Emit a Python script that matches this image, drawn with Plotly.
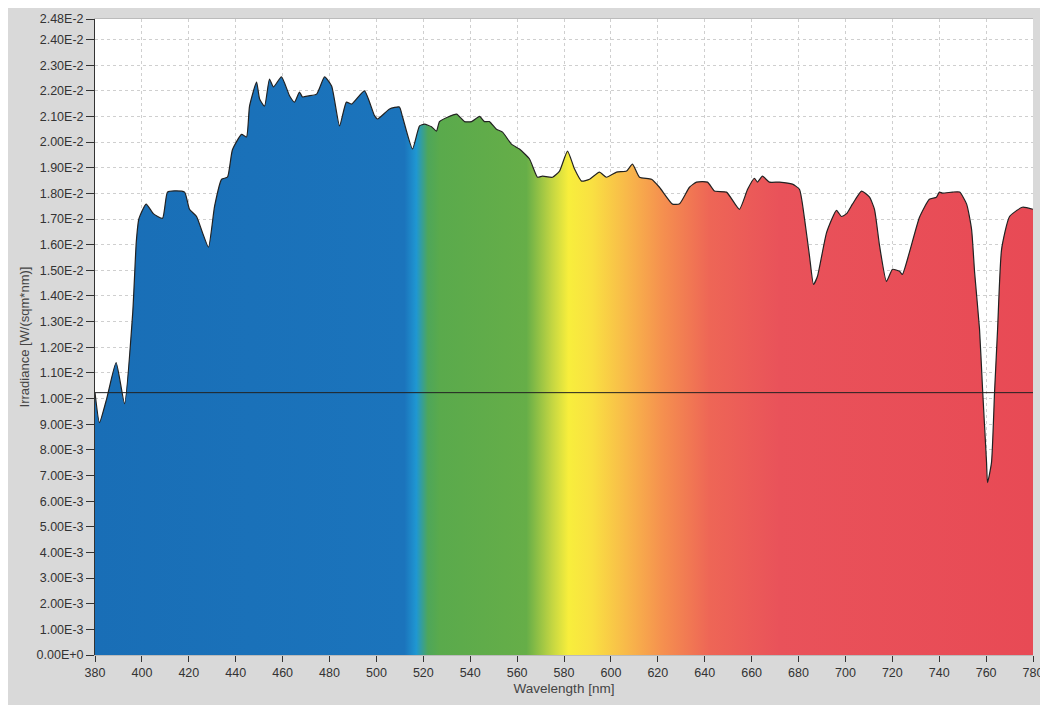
import plotly.graph_objects as go

# Spectral irradiance
wavelength = [380, 381.9, 385, 389.0, 392.6, 396.1, 397.6, 398.7, 401.8, 405, 408.8, 410.9, 414, 418.2,
              420.3, 423.3, 425.8, 428.4, 431, 434, 436.5, 438.6, 442.5, 444.6, 445.9, 448.9, 450.2,
              452.3, 454.4, 456.1, 459.5, 463, 465.1, 467.2, 468.5, 471, 474.5, 477.9, 480.9, 484.3,
              487.2, 489.4, 494.9, 499.2, 500.5, 505.6, 509.8, 511.1, 515.4, 518.4, 520.5, 523.5,
              525.6, 526.9, 530.3, 534.2, 537.6, 540.6, 544, 546.1, 548.2, 551.2, 553.8, 557.6, 561,
              565.3, 568.7, 570.8, 575.1, 578.1, 581.5, 584.5, 587.5, 590.9, 595.1, 598.1, 602.4,
              606.7, 609.2, 612.2, 617.3, 620.7, 626.3, 629.3, 633.5, 636.5, 641.2, 644.2, 649.3,
              654.8, 658.3, 661.2, 662.5, 664.6, 667.6, 671.9, 677.4, 680.4, 682.6, 684.7, 686.4,
              688.1, 692, 696.2, 698.3, 700.5, 703, 706.9, 710.3, 712.4, 714.6, 717.5, 720.1, 723.1,
              724.3, 727.3, 731.6, 735.8, 738.8, 740.1, 741.4, 745.7, 748.7, 751.7, 753.8, 755.1,
              757.2, 758.5, 760.2, 760.6, 762.3, 763.6, 764.9, 766.6, 770, 775.5, 780]
irradiance = [0.01023, 0.00906, 0.0100, 0.0114, 0.0098, 0.01336, 0.0161, 0.0170, 0.01758, 0.0172,
              0.01703, 0.01805, 0.01810, 0.01805, 0.01738, 0.0171, 0.01648, 0.0159, 0.0175, 0.01855,
              0.01863, 0.0197, 0.0203, 0.0202, 0.0214, 0.02234, 0.02168, 0.0214, 0.02246, 0.02215,
              0.02254, 0.0218, 0.02156, 0.02195, 0.02176, 0.02180, 0.02187, 0.02254, 0.02219, 0.02063,
              0.02156, 0.02148, 0.0220, 0.02103, 0.0209, 0.02129, 0.02137, 0.0210, 0.01973, 0.02063,
              0.0207, 0.0206, 0.02043, 0.0208, 0.02097, 0.02109, 0.0208, 0.0208, 0.0210, 0.0208,
              0.0208, 0.0205, 0.02039, 0.01992, 0.01973, 0.01934, 0.01863, 0.01867, 0.01863, 0.01887,
              0.01965, 0.01895, 0.01848, 0.01855, 0.01883, 0.01863, 0.01883, 0.01887, 0.01914,
              0.01863, 0.01855, 0.01824, 0.01758, 0.0176, 0.01824, 0.01844, 0.01844, 0.01809,
              0.01805, 0.01738, 0.01816, 0.01859, 0.01844, 0.01867, 0.01844, 0.01844, 0.01836,
              0.01816, 0.01699, 0.01555, 0.01445, 0.01477, 0.01648, 0.01734, 0.0171, 0.01721,
              0.01758, 0.01809, 0.01785, 0.01738, 0.01594, 0.01457, 0.01504, 0.01496, 0.01484,
              0.0157, 0.01707, 0.01777, 0.01785, 0.01805, 0.01801, 0.01805, 0.01805, 0.01758, 0.0166,
              0.01492, 0.0127, 0.01035, 0.0075, 0.00672, 0.0075, 0.01023, 0.0127, 0.01582, 0.0171,
              0.01746, 0.01738]

reference_level = 0.01023

x_ticks = list(range(380, 781, 20))
y_ticks = [i * 0.001 for i in range(25)] + [0.0248]
y_labels = ["0.00E+0"] + [f"{i}.00E-3" for i in range(1, 10)] + \
           [f"{i/10:.2f}E-2" for i in range(10, 25)] + ["2.48E-2"]

spectrum = [
    [0.0, "#196eb6"], [0.33, "#1b74bc"], [0.3425, "#1f97d2"], [0.355, "#4ea65a"],
    [0.3675, "#5aaa4c"], [0.46, "#66ae48"], [0.4875, "#c4d642"], [0.505, "#f8ee3c"],
    [0.53, "#f9e042"], [0.5675, "#f8b84a"], [0.605, "#f5904f"], [0.655, "#ee6656"],
    [0.73, "#e9525a"], [1.0, "#e84a55"],
]

fig = go.Figure()
fig.add_trace(go.Scatter(
    x=wavelength, y=irradiance, mode="lines", fill="tozeroy",
    line=dict(color="#222222", width=1.2, shape="spline", smoothing=0.5),
    fillgradient=dict(type="horizontal", colorscale=spectrum, start=380, stop=780),
    showlegend=False, hoverinfo="skip",
))
fig.add_trace(go.Scatter(
    x=[380, 780], y=[reference_level, reference_level], mode="lines",
    line=dict(color="#222222", width=1), showlegend=False, hoverinfo="skip",
))

font = dict(family="Liberation Sans, Arial", size=12.5, color="#333333")
fig.update_layout(
    width=1040, height=697,
    margin=dict(l=87, r=15, t=11, b=50, autoexpand=False),
    paper_bgcolor="#d9d9d9", plot_bgcolor="#ffffff",
    font=font,
    xaxis=dict(
        range=[380, 780], tickvals=x_ticks, ticks="outside", ticklen=6, tickcolor="#333333",
        showgrid=True, gridcolor="#cfcfcf", griddash="dot", gridwidth=1,
        showline=True, linecolor="#bbbbbb", mirror=True, zeroline=False, automargin=False,
        title=dict(text="Wavelength [nm]", standoff=4, font=dict(size=13.5, color="#444444")),
    ),
    yaxis=dict(
        range=[0, 0.0248], tickvals=y_ticks, ticktext=y_labels, ticks="outside", ticklen=8,
        tickcolor="#333333", showgrid=True, gridcolor="#cfcfcf", griddash="dot", gridwidth=1,
        showline=True, linecolor="#333333", zeroline=False, automargin=False,
        title=dict(text="Irradiance [W/(sqm*nm)]", standoff=4, font=dict(size=13, color="#444444")),
    ),
)

fig.write_html("out.html")
